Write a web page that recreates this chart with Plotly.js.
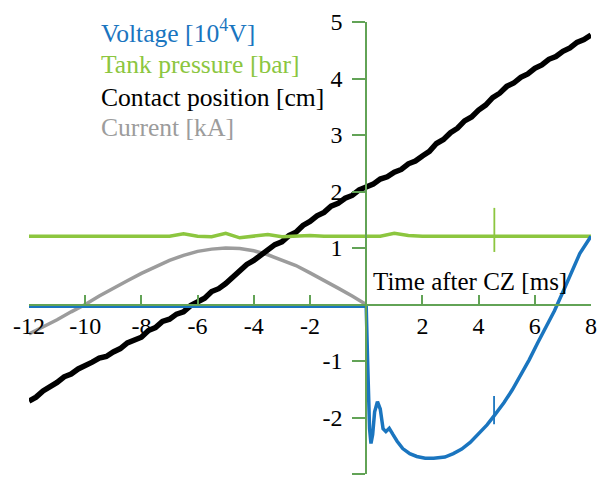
<!DOCTYPE html>
<html>
<head>
<meta charset="utf-8">
<script src="https://cdn.plot.ly/plotly-3.0.1.min.js"></script>
<style>html,body{margin:0;padding:0;background:#fff;}#chart{width:597px;height:485px;}</style>
</head>
<body>
<div id="chart"></div>
<script>
// ---- Data ----
const seriesNames = ["Voltage [10<sup>4</sup>V]", "Tank pressure [bar]", "Contact position [cm]", "Current [kA]"];
const seriesColors = ["#1a75bf", "#8cc63f", "#000000", "#9c9c9c"];

const voltageX = [-12, 0, 0.05, 0.12, 0.17, 0.23, 0.3, 0.4, 0.5, 0.6, 0.7, 0.82, 0.95, 1.1, 1.3, 1.55, 1.8, 2.1, 2.4, 2.8, 3.1, 3.4, 3.7, 4.0, 4.3, 4.55, 4.9, 5.2, 5.5, 5.8, 6.1, 6.4, 6.7, 7.0, 7.3, 7.6, 8.0];
const voltageY = [-0.03, -0.03, -1.0, -2.2, -2.46, -2.3, -1.9, -1.72, -1.85, -2.2, -2.25, -2.19, -2.3, -2.42, -2.55, -2.64, -2.69, -2.72, -2.72, -2.70, -2.64, -2.56, -2.44, -2.29, -2.13, -1.97, -1.74, -1.51, -1.26, -0.98, -0.68, -0.39, -0.11, 0.22, 0.58, 0.90, 1.21];
const voltageSpikeX = [4.55, 4.55];
const voltageSpikeY = [-2.12, -1.62];

const pressureX = [-12, -11.5, -11, -10.5, -10, -9.5, -9, -8.5, -8, -7.5, -7, -6.5, -6, -5.5, -5, -4.5, -4, -3.5, -3, -2.5, -2, -1.5, -1, -0.5, 0, 0.5, 1, 1.5, 2, 2.5, 3, 3.5, 4, 4.5, 5, 5.5, 6, 6.5, 7, 7.5, 8];
const pressureY = [1.21, 1.21, 1.20, 1.21, 1.21, 1.20, 1.20, 1.21, 1.21, 1.20, 1.21, 1.25, 1.21, 1.20, 1.26, 1.18, 1.21, 1.24, 1.20, 1.21, 1.22, 1.21, 1.21, 1.21, 1.22, 1.21, 1.26, 1.22, 1.21, 1.21, 1.21, 1.20, 1.21, 1.21, 1.21, 1.20, 1.21, 1.21, 1.20, 1.21, 1.21];
const pressureSpikeX = [4.56, 4.56];
const pressureSpikeY = [0.93, 1.71];

const contactX = [-12, -11.75, -11.5, -11.25, -11, -10.75, -10.5, -10.25, -10, -9.75, -9.5, -9.25, -9, -8.75, -8.5, -8.25, -8, -7.75, -7.5, -7.25, -7, -6.75, -6.5, -6.25, -6, -5.75, -5.5, -5.25, -5, -4.75, -4.5, -4.25, -4, -3.75, -3.5, -3.25, -3, -2.75, -2.5, -2.25, -2, -1.75, -1.5, -1.25, -1, -0.75, -0.5, -0.25, 0, 0.25, 0.5, 0.75, 1, 1.25, 1.5, 1.75, 2, 2.25, 2.5, 2.75, 3, 3.25, 3.5, 3.75, 4, 4.25, 4.5, 4.75, 5, 5.25, 5.5, 5.75, 6, 6.25, 6.5, 6.75, 7, 7.25, 7.5, 7.75, 8];
const contactY = [-1.71, -1.64, -1.53, -1.46, -1.38, -1.28, -1.23, -1.14, -1.09, -1.02, -0.95, -0.92, -0.84, -0.78, -0.68, -0.63, -0.58, -0.46, -0.41, -0.30, -0.26, -0.17, -0.13, -0.02, 0.05, 0.11, 0.23, 0.28, 0.37, 0.49, 0.58, 0.71, 0.78, 0.88, 0.95, 1.06, 1.11, 1.22, 1.28, 1.40, 1.47, 1.57, 1.63, 1.74, 1.79, 1.88, 1.93, 2.03, 2.08, 2.13, 2.22, 2.26, 2.34, 2.39, 2.49, 2.54, 2.63, 2.71, 2.85, 2.92, 3.04, 3.12, 3.25, 3.32, 3.44, 3.53, 3.66, 3.74, 3.86, 3.92, 4.02, 4.08, 4.18, 4.24, 4.34, 4.39, 4.48, 4.54, 4.64, 4.69, 4.77];

const currentX = [-12, -11.5, -11, -10.5, -10, -9.5, -9, -8.5, -8, -7.5, -7, -6.5, -6, -5.5, -5, -4.5, -4, -3.5, -3, -2.5, -2, -1.5, -1, -0.5, 0];
const currentY = [-0.52, -0.40, -0.27, -0.13, 0.0, 0.15, 0.29, 0.42, 0.55, 0.67, 0.78, 0.87, 0.94, 0.98, 1.0, 0.99, 0.95, 0.88, 0.79, 0.69, 0.56, 0.43, 0.29, 0.15, 0.0];

const xTickVals = [-12, -10, -8, -6, -4, -2, 2, 4, 6, 8];
const xTickText = ["-12", "-10", "-8", "-6", "-4", "-2", "2", "4", "6", "8"];
const yTickVals = [-3, -2, -1, 1, 2, 3, 4, 5];
const yTickText = ["-3", "-2", "-1", "1", "2", "3", "4", "5"];
const xTitle = "Time after CZ [ms]";

// ---- Chart ----
const axisGreen = "#62a356";
const fontFam = "Liberation Serif";

const traces = [
  {x: currentX, y: currentY, mode: "lines", line: {color: seriesColors[3], width: 3.5}, hoverinfo: "skip"},
  {x: contactX, y: contactY, mode: "lines", line: {color: seriesColors[2], width: 5.5}, hoverinfo: "skip"},
  {x: pressureX, y: pressureY, mode: "lines", line: {color: seriesColors[1], width: 3.5}, hoverinfo: "skip"},
  {x: pressureSpikeX, y: pressureSpikeY, mode: "lines", line: {color: seriesColors[1], width: 1.8}, hoverinfo: "skip"},
  {x: voltageX, y: voltageY, mode: "lines", line: {color: seriesColors[0], width: 3.5}, hoverinfo: "skip"},
  {x: voltageSpikeX, y: voltageSpikeY, mode: "lines", line: {color: seriesColors[0], width: 1.8}, hoverinfo: "skip"}
];

const legendY = [0.978, 0.905, 0.834, 0.767];
const annotations = seriesNames.map((n, i) => ({
  text: n, xref: "paper", yref: "paper", x: 0.125, y: legendY[i],
  xanchor: "left", yanchor: "middle", showarrow: false,
  font: {family: fontFam, size: 25.6, color: seriesColors[i]}
}));
annotations.push({
  text: xTitle, xref: "x", yref: "paper", x: 0.18, y: 0.425,
  xanchor: "left", yanchor: "middle", showarrow: false,
  font: {family: fontFam, size: 25, color: "#000"}
});

const layout = {
  width: 597, height: 485,
  margin: {l: 29, r: 6, t: 22, b: 11},
  paper_bgcolor: "#fff", plot_bgcolor: "#fff",
  showlegend: false,
  font: {family: fontFam, size: 24, color: "#000"},
  xaxis: {
    range: [-12, 8], anchor: "free", position: 0.375,
    showline: true, linecolor: axisGreen, linewidth: 2,
    ticks: "inside", ticklen: 9, tickwidth: 2, tickcolor: axisGreen,
    tickmode: "array", tickvals: xTickVals, ticktext: xTickText,
    showgrid: false, zeroline: false, layer: "above traces",
    tickfont: {family: fontFam, size: 24, color: "#000"}
  },
  yaxis: {
    range: [-3, 5], anchor: "free", position: 0.6,
    showline: true, linecolor: axisGreen, linewidth: 2,
    ticks: "outside", ticklen: 13, tickwidth: 2, tickcolor: axisGreen,
    ticklabelstandoff: 5,
    tickmode: "array", tickvals: yTickVals, ticktext: yTickText,
    showgrid: false, zeroline: false, layer: "above traces",
    tickfont: {family: fontFam, size: 24, color: "#000"}
  },
  annotations: annotations
};

Plotly.newPlot("chart", traces, layout, {displayModeBar: false, staticPlot: true});
</script>
</body>
</html>
